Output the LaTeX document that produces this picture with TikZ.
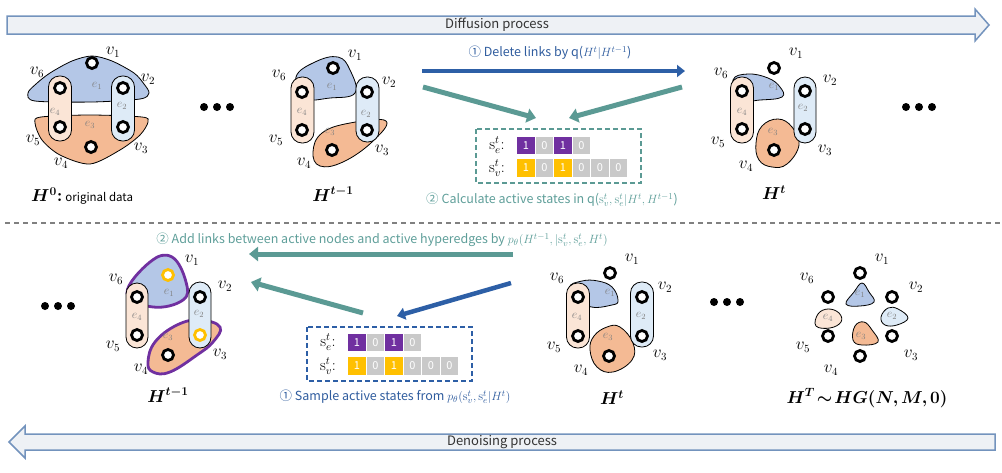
\documentclass[tikz,border=0pt]{standalone}
\usepackage{fontspec}
\usepackage{bm}
\usetikzlibrary{arrows.meta}
\newfontfamily\ya{Noto Sans CJK SC}
\definecolor{eblue}{HTML}{B4C7E7}
\definecolor{eorange}{HTML}{F4BA94}
\definecolor{epeach}{HTML}{FBE5D6}
\definecolor{elblue}{HTML}{DEEBF7}
\definecolor{tealc}{HTML}{5B9A94}
\definecolor{tealt}{HTML}{5E9E99}
\definecolor{bluec}{HTML}{2D5FA6}
\definecolor{bluet}{HTML}{2F5C9E}
\definecolor{purp}{HTML}{7030A0}
\definecolor{yel}{HTML}{FFC000}
\definecolor{cgray}{HTML}{C9C9C9}
\definecolor{barfill}{HTML}{EEF1F5}
\definecolor{barline}{HTML}{7393BD}
\tikzset{
  vert/.style={circle, draw=black, line width=2.8pt, fill=white, minimum size=11pt, inner sep=0pt},
  yvert/.style={vert, draw=yel},
  vlab/.style={font=\fontsize{16}{16}\selectfont, inner sep=0pt},
  elab/.style={text=gray, font=\fontsize{12}{12}\selectfont, inner sep=0pt},
  hedge/.style={draw=black, line width=0.8pt},
  capsule/.style={draw=black, line width=0.8pt, rounded corners=11pt},
  pedge/.style={draw=purp, line width=2.8pt},
  capt/.style={font=\fontsize{18}{18}\selectfont, inner sep=0pt},
  barshape/.style={fill=barfill, draw=barline, line width=1.5pt, line join=miter},
  bartext/.style={font=\ya\fontsize{13}{13}\selectfont, text=black!80, inner sep=0pt},
  bluearr/.style={draw=bluec, line width=4.5pt, -{Triangle[length=8pt,width=12pt]}},
  tealarr/.style={draw=tealc, line width=5pt, -{Triangle[length=9pt,width=14pt]}},
  tlab/.style={font=\ya\fontsize{12.5}{12.5}\selectfont, text=tealt, inner sep=0pt},
  blab/.style={font=\ya\fontsize{12.5}{12.5}\selectfont, text=bluet, inner sep=0pt},
  cell/.style={minimum width=17.5pt, minimum height=17.5pt, inner sep=0pt, text=white, font=\ya\fontsize{11}{11}\selectfont},
  slab/.style={font=\fontsize{16}{16}\selectfont, inner sep=0pt},
  dot/.style={circle, fill=black, minimum size=8pt, inner sep=0pt}
}
\begin{document}
\begin{tikzpicture}[x=1pt,y=-1pt]
\useasboundingbox (0,0) rectangle (1002,472);
% ---------- bars ----------
\draw[barshape] (7,16) -- (975,16) -- (975,9) -- (989,25) -- (975,41) -- (975,34) -- (7,34) -- cycle;
\node[bartext] (diff) at (497,25) {Diffusion process};
\draw[barshape] (995,434) -- (25,434) -- (25,426) -- (9,442) -- (25,458) -- (25,450) -- (995,450) -- cycle;
\node[bartext] (deno) at (502,442) {Denoising process};
\draw[gray, line width=1.2pt, dash pattern=on 5pt off 4pt] (5,223) -- (1000,223);

% ---------- H^0 ----------
\fill[eblue, hedge] plot[smooth cycle, tension=0.5] coordinates {(28,93) (36,84) (50,73) (72,61) (92,56) (112,61) (134,73) (144,84) (149,93) (140,99) (92,102) (35,101)};
\fill[eorange, hedge] plot[smooth cycle, tension=0.5] coordinates {(35,123) (41,117) (90,115) (142,117) (148,122) (140,135) (120,150) (90,164) (60,155) (42,140)};
\filldraw[fill=epeach, capsule] (48.5,76) rectangle (71.5,141);
\filldraw[fill=elblue, capsule] (111.5,76) rectangle (134.5,141);
\node[elab] at (97,86) {$e_1$};
\node[elab] at (55,112) {$e_4$};
\node[elab] at (122,106) {$e_2$};
\node[elab] at (90,125) {$e_3$};
\node[vert] (a1) at (92,63) {};
\node[vert] (a6) at (60,88) {};
\node[vert] (a2) at (123,88) {};
\node[vert] (a5) at (60,127) {};
\node[vert] (a3) at (123,127) {};
\node[vert] (a4) at (91,147) {};
\node[vlab] at (113,52) {$v_1$};
\node[vlab] at (37,72) {$v_6$};
\node[vlab] at (148,79) {$v_2$};
\node[vlab] at (33,140) {$v_5$};
\node[vlab] at (141,148) {$v_3$};
\node[vlab] at (61,163) {$v_4$};
\node[capt, anchor=west] (c0) at (31,196) {$\bm{H^{0}}$\textbf{:}\,{\ya\fontsize{11.5}{11.5}\selectfont original data}};

\node[dot] at (204,107) {};
\node[dot] at (217,107) {};
\node[dot] at (230,107) {};

% ---------- H^{t-1} top ----------
\fill[eblue, hedge] plot[smooth cycle, tension=0.7] coordinates {(296,77) (315,62) (338,57) (350,70) (355,93) (330,98) (305,98)};
\fill[eorange, hedge] plot[smooth cycle, tension=0.7] coordinates {(313,152) (322,133) (350,123) (386,121) (372,142) (343,162) (320,166)};
\filldraw[fill=epeach, capsule] (291,77) rectangle (314,143);
\filldraw[fill=elblue, capsule] (356,77) rectangle (379,142);
\node[elab] at (332,87) {$e_1$};
\node[elab] at (302,112) {$e_4$};
\node[elab] at (366,114) {$e_2$};
\node[elab] at (330,132) {$e_3$};
\node[vert] (b1) at (333,68) {};
\node[vert] (b6) at (302,92) {};
\node[vert] (b2) at (367,92) {};
\node[vert] (b5) at (302,130) {};
\node[vert] (b3) at (367,130) {};
\node[vert] (b4) at (332,150) {};
\node[vlab] at (355,55) {$v_1$};
\node[vlab] at (279,75) {$v_6$};
\node[vlab] at (389,82) {$v_2$};
\node[vlab] at (276,140) {$v_5$};
\node[vlab] at (382,150) {$v_3$};
\node[vlab] at (304,163) {$v_4$};
\node[capt] (c1) at (333,194) {$\bm{H^{t-1}}$};

% ---------- top middle ----------
\coordinate (ta1) at (422,71);
\coordinate (ta2) at (685,71);
\draw[bluearr] (ta1) -- (ta2);
\node[blab] (lab1) at (550,53) {① Delete links by q($H^t|H^{t-1}$)};
\coordinate (tl1) at (423,87);
\coordinate (tl2) at (536,118);
\coordinate (tr1) at (682,87);
\coordinate (tr2) at (569,118);
\draw[tealarr] (tl1) -- (tl2);
\draw[tealarr] (tr1) -- (tr2);
\draw[tealc, line width=1.8pt, dash pattern=on 5pt off 3pt] (476,129) rectangle (641,183);
\node[slab] at (497,145) {$\mathrm{s}_e^t$:};
\node[slab] at (497,168) {$\mathrm{s}_v^t$:};
\foreach \c/\t [count=\i] in {purp/1,cgray/0,purp/1,cgray/0}
  \node[cell, fill=\c] (te\i) at ({525.8+(\i-1)*18.5},145.5) {\t};
\foreach \c/\t [count=\i] in {yel/1,cgray/0,yel/1,cgray/0,cgray/0,cgray/0}
  \node[cell, fill=\c] (tv\i) at ({525.8+(\i-1)*18.5},168) {\t};
\node[tlab] (lab2) at (552,200) {② Calculate active states in q($\mathrm{s}_v^t,\mathrm{s}_e^t|H^t,H^{t-1}$)};

% ---------- H^t top ----------
\fill[eblue, hedge] plot[smooth cycle, tension=0.7] coordinates {(733,80) (748,74) (768,78) (780,87) (782,97) (760,100) (740,100)};
\fill[eorange, hedge] plot[smooth cycle, tension=0.7] coordinates {(756,143) (762,126) (778,119) (792,127) (799,145) (787,164) (772,167) (759,160)};
\filldraw[fill=epeach, capsule] (730.5,77) rectangle (753.5,143);
\filldraw[fill=elblue, capsule] (794,77) rectangle (816,143);
\node[elab] at (774,87) {$e_1$};
\node[elab] at (742,112) {$e_4$};
\node[elab] at (803,108) {$e_2$};
\node[elab] at (773,132) {$e_3$};
\node[vert] (c1v) at (774,68) {};
\node[vert] (c6v) at (742,91) {};
\node[vert] (c2v) at (805,91) {};
\node[vert] (c5v) at (742,129) {};
\node[vert] (c3v) at (805,129) {};
\node[vert] (c4v) at (774,150) {};
\node[vlab] at (796,53) {$v_1$};
\node[vlab] at (721,73) {$v_6$};
\node[vlab] at (830,80) {$v_2$};
\node[vlab] at (718,142) {$v_5$};
\node[vlab] at (825,150) {$v_3$};
\node[vlab] at (746,166) {$v_4$};
\node[capt] (c2) at (774,193) {$\bm{H^{t}}$};

\node[dot] at (906,107) {};
\node[dot] at (919,107) {};
\node[dot] at (932,107) {};

% ---------- bottom ----------
\node[dot] at (45,306) {};
\node[dot] at (58,306) {};
\node[dot] at (71,306) {};

% H^{t-1} bottom
\fill[eblue, pedge] plot[smooth cycle, tension=0.7] coordinates {(127,293) (150,262) (172,257) (186,282) (183,300) (153,307)};
\fill[eorange, pedge] plot[smooth cycle, tension=0.7] coordinates {(148,362) (155,342) (177,325) (200,320) (220,327) (213,342) (197,355) (170,372) (153,372)};
\filldraw[fill=epeach, capsule] (126,283) rectangle (148,348);
\filldraw[fill=elblue, capsule] (189,282) rectangle (211,348);
\node[elab] at (169,293) {$e_1$};
\node[elab] at (137,317) {$e_4$};
\node[elab] at (199,314) {$e_2$};
\node[elab] at (168,337) {$e_3$};
\node[yvert] (d1) at (168,275) {};
\node[vert] (d6) at (137,297) {};
\node[vert] (d2) at (200,297) {};
\node[vert] (d5) at (137,335) {};
\node[yvert] (d3) at (200,335) {};
\node[vert] (d4) at (168,355) {};
\node[vlab] at (192,260) {$v_1$};
\node[vlab] at (116,279) {$v_6$};
\node[vlab] at (225,286) {$v_2$};
\node[vlab] at (113,346) {$v_5$};
\node[vlab] at (220,354) {$v_3$};
\node[vlab] at (141,369) {$v_4$};
\node[capt] (c3) at (168,395) {$\bm{H^{t-1}}$};

% middle bottom
\node[tlab] (lab3) at (382,240) {② Add links between active nodes and active hyperedges by $p_\theta(H^{t-1},|\mathrm{s}_v^t,\mathrm{s}_e^t,H^t)$};
\coordinate (bl1) at (513,254);
\coordinate (bl2) at (249,254);
\draw[tealarr] (bl1) -- (bl2);
\coordinate (bs1) at (363,313);
\coordinate (bs2) at (251,282);
\draw[tealarr] (bs1) -- (bs2);
\coordinate (bb1) at (511,283);
\coordinate (bb2) at (397,316);
\draw[bluearr] (bb1) -- (bb2);
\draw[bluec, line width=1.8pt, dash pattern=on 5pt off 3pt] (307,327) rectangle (472,381);
\node[slab] at (328,342) {$\mathrm{s}_e^t$:};
\node[slab] at (328,366) {$\mathrm{s}_v^t$:};
\foreach \c/\t [count=\i] in {purp/1,cgray/0,purp/1,cgray/0}
  \node[cell, fill=\c] (be\i) at ({356.8+(\i-1)*18.5},342.5) {\t};
\foreach \c/\t [count=\i] in {yel/1,cgray/0,yel/1,cgray/0,cgray/0,cgray/0}
  \node[cell, fill=\c] (bv\i) at ({356.8+(\i-1)*18.5},366) {\t};
\node[blab] (lab4) at (395,397) {① Sample active states from $p_\theta(\mathrm{s}_v^t,\mathrm{s}_e^t|H^t)$};

% H^t bottom
\fill[eblue, hedge] plot[smooth cycle, tension=0.7] coordinates {(570,288) (582,281) (598,281) (612,287) (618,300) (612,305) (588,306)};
\fill[eorange, hedge] plot[smooth cycle, tension=0.7] coordinates {(590,350) (594,336) (607,327) (620,327) (633,343) (632,360) (613,372) (597,367)};
\filldraw[fill=epeach, capsule] (566.5,283) rectangle (589.5,348);
\filldraw[fill=elblue, capsule] (630.5,282) rectangle (653.5,347);
\node[elab] at (610,293) {$e_1$};
\node[elab] at (577,317) {$e_4$};
\node[elab] at (641,316) {$e_2$};
\node[elab] at (608,337) {$e_3$};
\node[vert] (f1) at (610,273) {};
\node[vert] (f6) at (578,297) {};
\node[vert] (f2) at (642,297) {};
\node[vert] (f5) at (578,336) {};
\node[vert] (f3) at (642,336) {};
\node[vert] (f4) at (609,356) {};
\node[vlab] at (632,259) {$v_1$};
\node[vlab] at (557,278) {$v_6$};
\node[vlab] at (665,287) {$v_2$};
\node[vlab] at (554,347) {$v_5$};
\node[vlab] at (660,355) {$v_3$};
\node[vlab] at (581,370) {$v_4$};
\node[capt] (c4) at (612,398) {$\bm{H^{t}}$};

\node[dot] at (714,302) {};
\node[dot] at (727,302) {};
\node[dot] at (740,302) {};

% H^T
\fill[eblue, hedge] plot[smooth cycle, tension=0.7] coordinates {(862,283) (869,292) (874,302) (860,306) (846,304) (854,292)};
\fill[epeach, hedge] plot[smooth cycle, tension=0.7] coordinates {(816,326) (818,314) (828,309) (839,313) (841,322) (830,328)};
\fill[elblue, hedge] plot[smooth cycle, tension=0.7] coordinates {(881,317) (888,308) (898,309) (908,318) (897,325) (885,325)};
\fill[eorange, hedge] plot[smooth cycle, tension=0.7] coordinates {(853,340) (855,326) (864,322) (872,330) (878,342) (862,345)};
\node[elab] at (860,294) {$e_1$};
\node[elab] at (828,318) {$e_4$};
\node[elab] at (892,316) {$e_2$};
\node[elab] at (861,336) {$e_3$};
\node[vert] (g1) at (860,273) {};
\node[vert] (g6) at (828,297) {};
\node[vert] (g2) at (892,297) {};
\node[vert] (g5) at (828,336) {};
\node[vert] (g3) at (892,336) {};
\node[vert] (g4) at (860,356) {};
\node[vlab] at (882,259) {$v_1$};
\node[vlab] at (807,278) {$v_6$};
\node[vlab] at (916,287) {$v_2$};
\node[vlab] at (803,347) {$v_5$};
\node[vlab] at (911,355) {$v_3$};
\node[vlab] at (831,370) {$v_4$};
\node[capt] (c5) at (867,398) {$\bm{H^{T}\!\sim\! HG(N,M,0)}$};
\end{tikzpicture}
\end{document}
